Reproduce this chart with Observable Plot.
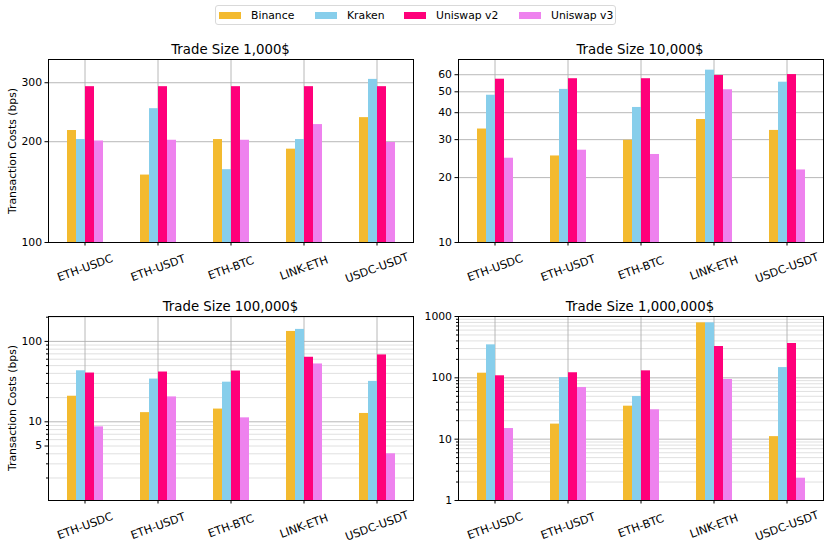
<!DOCTYPE html>
<html>
<head>
<meta charset="utf-8">
<script src="https://cdn.jsdelivr.net/npm/d3@7"></script>
<script src="https://cdn.jsdelivr.net/npm/@observablehq/plot@0.6"></script>
<style>
  body { margin: 0; background: #fff; font-family: "DejaVu Sans", sans-serif; }
  #root { position: relative; width: 830px; height: 545px; overflow: hidden; }
  .panel { position: absolute; }
  .title { position: absolute; font-size: 13.3px; color: #000; transform: translate(-50%, -50%); white-space: nowrap; }
  .ylab { position: absolute; font-size: 10.8px; color: #000; transform: translate(-50%, -50%) rotate(-90deg); white-space: nowrap; }
  #legend { position: absolute; left: 215px; top: 5px; width: 401px; height: 20px; border: 1px solid #d9d9d9; border-radius: 3px;
            font-size: 10.8px; box-sizing: border-box; }
  .item { position: absolute; top: 0; height: 18px; display: flex; align-items: center; white-space: nowrap; }
  .sw { width: 22px; height: 7px; margin-right: 10px; }
</style>
</head>
<body>
<div id="root"></div>
<script>
// ---- data ----
const pairs = ["ETH-USDC", "ETH-USDT", "ETH-BTC", "LINK-ETH", "USDC-USDT"];
const exchanges = ["Binance", "Kraken", "Uniswap v2", "Uniswap v3"];
const colors = ["#F3BA2F", "#87CEEB", "#FF007A", "#EE82EE"];
const titles = ["Trade Size 1,000$", "Trade Size 10,000$", "Trade Size 100,000$", "Trade Size 1,000,000$"];

// Trade size 1,000$
const binance1k = [216, 159, 203, 190, 236];
const kraken1k = [203, 251, 165, 203, 307];
const uniV2_1k = [292, 292, 292, 292, 292];
const uniV3_1k = [201, 202, 202, 225, 199];
// Trade size 10,000$
const binance10k = [33.6, 25.2, 29.8, 37.2, 33.1];
const kraken10k = [48.2, 51.3, 42.3, 63.0, 55.4];
const uniV2_10k = [57.2, 57.5, 57.5, 59.5, 60.1];
const uniV3_10k = [24.6, 26.8, 25.6, 51.1, 21.7];
// Trade size 100,000$
const binance100k = [20.8, 13.0, 14.4, 133, 12.7];
const kraken100k = [43.1, 34.0, 31.1, 141, 31.8];
const uniV2_100k = [40.4, 41.6, 42.8, 63.5, 67.9];
const uniV3_100k = [8.65, 20.4, 11.2, 52.4, 4.0];
// Trade size 1,000,000$
const binance1m = [119, 17.6, 34.5, 788, 11.0];
const kraken1m = [345, 101, 49.6, 788, 147];
const uniV2_1m = [108, 121, 130, 324, 363];
const uniV3_1m = [14.9, 69.5, 30.1, 94, 2.31];

// y domains and ticks
const yDomain1k = [100, 352];
const yDomain10k = [10, 70.6];
const yDomain100k = [1.05, 204];
const yDomain1m = [1, 1000];
const majorTicks1k = [100, 200, 300];
const majorTicks10k = [10, 20, 30, 40, 50, 60];
const majorTicks100k = [10, 100];
const labelTicks100k = [5, 10, 100];
const minorTicks100k = [2, 3, 4, 5, 6, 7, 8, 9, 20, 30, 40, 50, 60, 70, 80, 90, 200];
const majorTicks1m = [1, 10, 100, 1000];
const minorTicks1m = [2, 3, 4, 5, 6, 7, 8, 9, 20, 30, 40, 50, 60, 70, 80, 90, 200, 300, 400, 500, 600, 700, 800, 900];

function rows(series) {
  const out = [];
  pairs.forEach((p, i) => series.forEach((vals, j) => out.push({pair: p, exchange: exchanges[j], value: vals[i]})));
  return out;
}

const panels = [
  {data: rows([binance1k, kraken1k, uniV2_1k, uniV3_1k]), domain: yDomain1k, major: majorTicks1k, minor: [], labels: majorTicks1k, left: 0, top: 40, ml: 47, mr: 1, mt: 19, mb: 48, ylab: true},
  {data: rows([binance10k, kraken10k, uniV2_10k, uniV3_10k]), domain: yDomain10k, major: majorTicks10k, minor: [], labels: majorTicks10k, left: 415, top: 40, ml: 42, mr: 7, mt: 19, mb: 48, ylab: false},
  {data: rows([binance100k, kraken100k, uniV2_100k, uniV3_100k]), domain: yDomain100k, major: majorTicks100k, minor: minorTicks100k, labels: labelTicks100k, left: 0, top: 295, ml: 47, mr: 1, mt: 21, mb: 45, ylab: true},
  {data: rows([binance1m, kraken1m, uniV2_1m, uniV3_1m]), domain: yDomain1m, major: majorTicks1m, minor: minorTicks1m, labels: majorTicks1m, left: 415, top: 295, ml: 42, mr: 7, mt: 21, mb: 45, ylab: false}
];

const root = document.getElementById("root");

// legend
const legend = document.createElement("div");
legend.id = "legend";
const legendLeft = [3, 99, 188, 303];
exchanges.forEach((e, i) => {
  const it = document.createElement("div");
  it.className = "item";
  it.style.left = legendLeft[i] + "px";
  it.innerHTML = `<div class="sw" style="background:${colors[i]}"></div><span>${e}</span>`;
  legend.appendChild(it);
});
root.appendChild(legend);

panels.forEach((p, idx) => {
  const W = 415, H = 250;
  const minorOnly = p.minor.filter(d => !p.labels.includes(d));
  const chart = Plot.plot({
    width: W, height: H,
    marginLeft: p.ml, marginRight: p.mr, marginTop: p.mt, marginBottom: p.mb,
    style: {fontFamily: "DejaVu Sans, sans-serif", fontSize: "10.8px", overflow: "visible", background: "transparent"},
    fx: {domain: pairs, padding: 0, axis: null, label: null},
    x: {domain: exchanges, paddingInner: 0, paddingOuter: 2, axis: null},
    y: {type: "log", domain: p.domain, axis: null, label: null},
    color: {domain: exchanges, range: colors},
    marks: [
      Plot.gridY(p.minor, {stroke: "#dcdcdc", strokeOpacity: 1, strokeWidth: 0.9}),
      Plot.gridY(p.major, {stroke: "#b0b0b0", strokeOpacity: 1, strokeWidth: 0.9}),
      Plot.gridFx({stroke: "#b0b0b0", strokeOpacity: 1, strokeWidth: 0.9}),
      Plot.barY(p.data, {fx: "pair", x: "exchange", y1: p.domain[0], y2: "value", fill: "exchange"}),
      Plot.axisY({ticks: minorOnly, tickSize: 2, tickFormat: () => "", stroke: "#000", label: null}),
      Plot.axisY({ticks: p.labels, tickSize: 3.5, tickPadding: 3, tickFormat: d => String(d), fill: "#000", stroke: "#000", fontSize: 10.8, label: null}),
      Plot.axisFx({anchor: "bottom", tickSize: 3.5, tickPadding: 22, tickRotate: -20, textAnchor: "middle", lineAnchor: "middle", fontSize: 11.2, label: null, fill: "#000"}),
      Plot.frame({facet: "super", stroke: "#000", strokeWidth: 1})
    ]
  });
  const holder = document.createElement("div");
  holder.className = "panel";
  holder.style.left = p.left + "px";
  holder.style.top = p.top + "px";
  holder.appendChild(chart);
  root.appendChild(holder);

  const t = document.createElement("div");
  t.className = "title";
  t.textContent = titles[idx];
  t.style.left = (p.left + p.ml + (W - p.ml - p.mr) / 2) + "px";
  t.style.top = (p.top + p.mt - 10) + "px";
  root.appendChild(t);

  if (p.ylab) {
    const yl = document.createElement("div");
    yl.className = "ylab";
    yl.textContent = "Transaction Costs (bps)";
    yl.style.left = "12px";
    yl.style.top = (p.top + p.mt + (H - p.mt - p.mb) / 2) + "px";
    root.appendChild(yl);
  }
});
</script>
</body>
</html>
